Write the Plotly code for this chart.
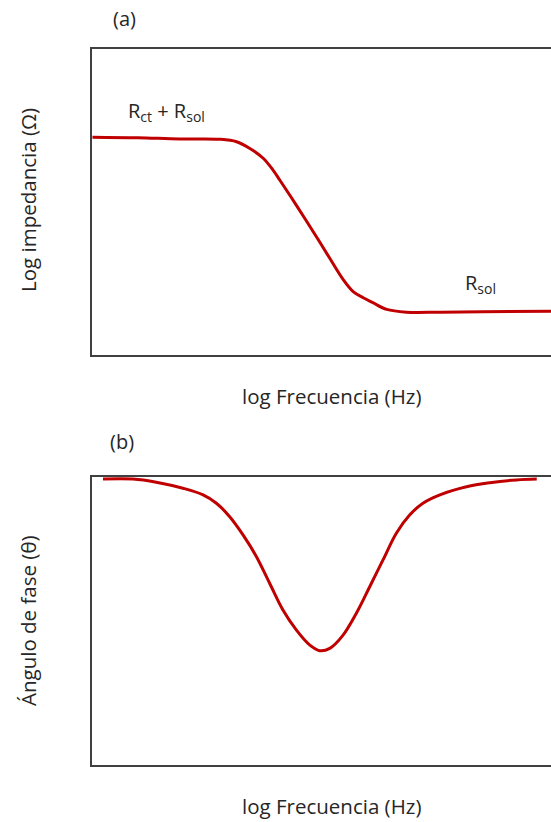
import plotly.graph_objects as go

# Panel (a): log impedance vs log frequency (arbitrary units)
freq_a = [0.01, 1.00, 1.91, 2.78, 3.15, 3.44, 3.73, 3.94, 4.09, 4.45, 4.82, 5.18, 5.47,
          5.69, 5.91, 6.12, 6.42, 6.85, 7.58, 8.50, 10.0]
imp_a = [7.12, 7.10, 7.06, 7.05, 6.97, 6.75, 6.43, 6.05, 5.72, 4.90, 4.03, 3.16, 2.47,
         2.07, 1.87, 1.71, 1.49, 1.40, 1.40, 1.41, 1.43]

# Panel (b): phase angle vs log frequency (arbitrary units)
freq_b = [0.24, 0.89, 1.40, 1.98, 2.42, 2.71, 3.00, 3.29, 3.58, 3.87, 4.16, 4.45, 4.74, 4.96,
          5.18, 5.47, 5.76, 6.05, 6.34, 6.63, 6.92, 7.21, 7.58, 8.16, 8.67, 9.25, 9.69]
phase_b = [9.93, 9.93, 9.82, 9.61, 9.38, 9.09, 8.62, 7.99, 7.24, 6.31, 5.38, 4.69, 4.17, 3.97,
           4.05, 4.51, 5.27, 6.19, 7.12, 8.05, 8.68, 9.09, 9.38, 9.66, 9.80, 9.90, 9.93]

RED = "#C00000"
TXT = "#262626"
FONT = "Open Sans"

fig = go.Figure()
fig.add_trace(go.Scatter(x=freq_a, y=imp_a, mode="lines",
                         line=dict(color=RED, width=3, shape="spline", smoothing=1.0),
                         xaxis="x", yaxis="y", hoverinfo="skip"))
fig.add_trace(go.Scatter(x=freq_b, y=phase_b, mode="lines",
                         line=dict(color=RED, width=3, shape="spline", smoothing=1.0),
                         xaxis="x2", yaxis="y2", hoverinfo="skip"))

axis_common = dict(showgrid=False, zeroline=False, showticklabels=False, ticks="",
                   showline=True, linecolor="#404040", linewidth=1.5)

H_TOP, H_BOT = 49, 57
plot_h = 822 - H_TOP - H_BOT

def yfrac(px):
    return (822 - H_BOT - px) / plot_h

fig.update_layout(
    width=551, height=822,
    margin=dict(l=92, r=0, t=H_TOP, b=H_BOT),
    plot_bgcolor="white", paper_bgcolor="white",
    showlegend=False,
    font=dict(family=FONT, color=TXT, size=20),
    xaxis=dict(range=[0, 10], domain=[0, 1], anchor="y", mirror=True, **axis_common),
    yaxis=dict(range=[0, 10], domain=[yfrac(355), 1.0], anchor="x", mirror=False, **axis_common),
    xaxis2=dict(range=[0, 10], domain=[0, 1], anchor="y2", mirror=True, **axis_common),
    yaxis2=dict(range=[0, 10], domain=[0, yfrac(477)], anchor="x2", mirror=False, **axis_common),
)

def ann(text, xpx, ypx, angle=0, size=20):
    fig.add_annotation(text=text, xref="paper", yref="paper",
                       x=(xpx - 92) / (551 - 92), y=yfrac(ypx),
                       showarrow=False, textangle=angle,
                       font=dict(family=FONT, size=size, color=TXT),
                       xanchor="center", yanchor="middle")

ann("(a)", 124, 18, size=20)
ann("(b)", 122, 441, size=20)
ann("Log impedancia (Ω)", 28, 200, angle=-90, size=20.5)
ann("Ángulo de fase (θ)", 28, 621, angle=-90, size=20.5)
ann("log Frecuencia (Hz)", 331, 396, size=20.5)
ann("log Frecuencia (Hz)", 331, 806, size=20.5)
ann("R<sub>ct</sub> + R<sub>sol</sub>", 166, 111, size=20)
ann("R<sub>sol</sub>", 480, 283, size=20)

fig.write_html("out.html", config={"displayModeBar": False},
               post_script="document.body.style.margin='0';document.body.style.overflow='hidden';")
